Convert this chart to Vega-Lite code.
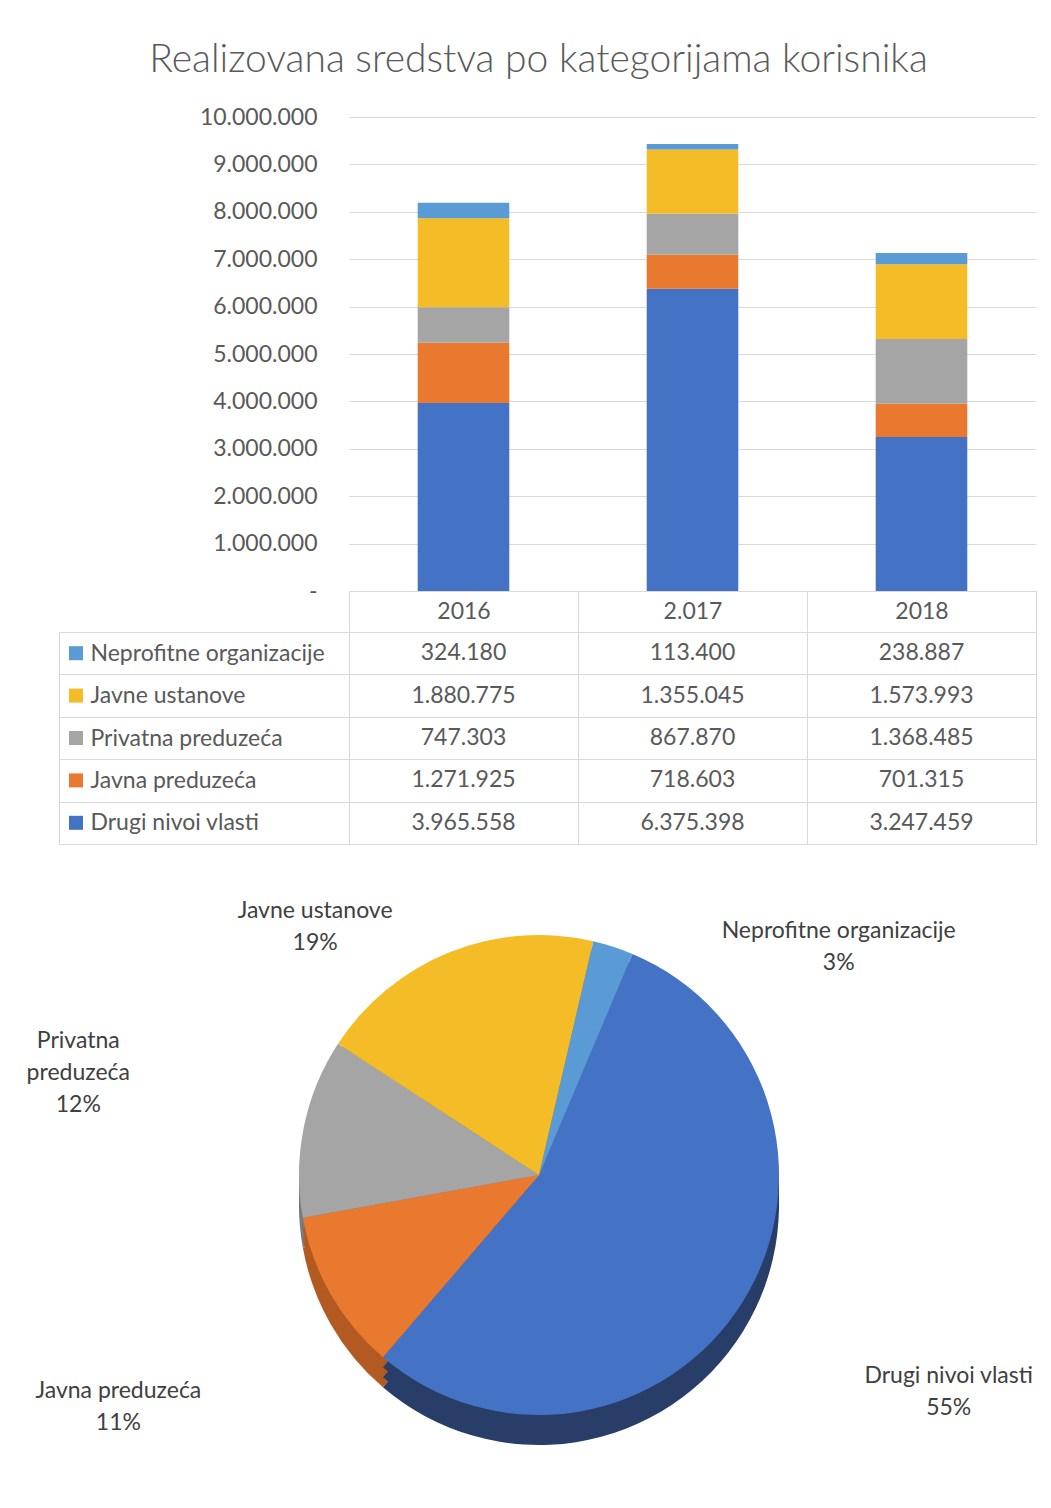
{
  "$schema": "https://vega.github.io/schema/vega-lite/v6.json",
  "padding": {"left": 26, "top": 41, "right": 0, "bottom": 0},
  "background": "white",
  "config": {
    "locale": {"number": {"decimal": ",", "thousands": ".", "grouping": [3], "currency": ["", ""]}},
    "view": {"stroke": null},
    "font": "Lato",
    "axis": {"labelFont": "Lato", "labelColor": "#595959", "labelFontSize": 23, "title": null},
    "text": {"font": "Lato"}
  },
  "datasets": {
    "vals": [
      {"year": "2016", "cat": "Drugi nivoi vlasti", "ord": 1, "value": 3965558},
      {"year": "2016", "cat": "Javna preduzeća", "ord": 2, "value": 1271925},
      {"year": "2016", "cat": "Privatna preduzeća", "ord": 3, "value": 747303},
      {"year": "2016", "cat": "Javne ustanove", "ord": 4, "value": 1880775},
      {"year": "2016", "cat": "Neprofitne organizacije", "ord": 5, "value": 324180},
      {"year": "2.017", "cat": "Drugi nivoi vlasti", "ord": 1, "value": 6375398},
      {"year": "2.017", "cat": "Javna preduzeća", "ord": 2, "value": 718603},
      {"year": "2.017", "cat": "Privatna preduzeća", "ord": 3, "value": 867870},
      {"year": "2.017", "cat": "Javne ustanove", "ord": 4, "value": 1355045},
      {"year": "2.017", "cat": "Neprofitne organizacije", "ord": 5, "value": 113400},
      {"year": "2018", "cat": "Drugi nivoi vlasti", "ord": 1, "value": 3247459},
      {"year": "2018", "cat": "Javna preduzeća", "ord": 2, "value": 701315},
      {"year": "2018", "cat": "Privatna preduzeća", "ord": 3, "value": 1368485},
      {"year": "2018", "cat": "Javne ustanove", "ord": 4, "value": 1573993},
      {"year": "2018", "cat": "Neprofitne organizacije", "ord": 5, "value": 238887}
    ],
    "pie": [
      {"cat": "Drugi nivoi vlasti", "ord": 1, "total": 13588415, "lbl": "Drugi nivoi vlasti\n55%"},
      {"cat": "Javna preduzeća", "ord": 2, "total": 2691843, "lbl": "Javna preduzeća\n11%"},
      {"cat": "Privatna preduzeća", "ord": 3, "total": 2983658, "lbl": "Privatna\npreduzeća\n12%"},
      {"cat": "Javne ustanove", "ord": 4, "total": 4809813, "lbl": "Javne ustanove\n19%"},
      {"cat": "Neprofitne organizacije", "ord": 5, "total": 676467, "lbl": "Neprofitne organizacije\n3%"}
    ]
  },
  "spacing": -12,
  "vconcat": [
    {
      "width": 687,
      "height": 474,
      "title": {"text": "Realizovana  sredstva po kategorijama korisnika", "fontSize": 39, "font": "Lato", "fontWeight": 300, "color": "#595959", "anchor": "middle", "frame": "group", "dx": -154, "offset": 26},
      "data": {"name": "vals"},
      "mark": {"type": "bar", "width": {"band": 0.4}},
      "encoding": {
        "x": {"field": "year", "type": "nominal", "sort": ["2016", "2.017", "2018"],
              "scale": {"type": "band", "paddingInner": 0, "paddingOuter": 0},
              "axis": {"orient": "bottom", "tickBand": "extent", "tickSize": 40, "tickColor": "#d9d9d9", "domainColor": "#d9d9d9", "labelPadding": -20, "labelBaseline": "middle", "labelAngle": 0, "grid": false, "minExtent": 40, "maxExtent": 40}},
        "y": {"field": "value", "type": "quantitative",
              "scale": {"domain": [0, 10000000], "nice": false},
              "axis": {"values": [0, 1000000, 2000000, 3000000, 4000000, 5000000, 6000000, 7000000, 8000000, 9000000, 10000000],
                       "format": ",d", "labelExpr": "datum.value === 0 ? '-' : datum.label",
                       "grid": true, "gridColor": "#d9d9d9", "domain": false, "ticks": false, "labelPadding": 32}},
        "color": {"field": "cat", "type": "nominal",
                  "scale": {"domain": ["Drugi nivoi vlasti", "Javna preduzeća", "Privatna preduzeća", "Javne ustanove", "Neprofitne organizacije"],
                            "range": ["#4472C4", "#E8792F", "#A5A5A5", "#F4BC26", "#5B9BD5"]},
                  "legend": null},
        "order": {"field": "ord", "type": "quantitative"}
      }
    },
    {
      "width": 687,
      "height": 212,
      "data": {"name": "vals"},
      "layer": [
        {
          "mark": {"type": "text", "fontSize": 23, "color": "#595959"},
          "encoding": {
            "x": {"field": "year", "type": "nominal", "sort": ["2016", "2.017", "2018"],
                  "scale": {"type": "band", "paddingInner": 0, "paddingOuter": 0},
                  "axis": {"orient": "bottom", "labels": false, "ticks": false, "domain": false, "grid": true, "gridColor": "#d9d9d9", "tickBand": "extent", "minExtent": 0, "maxExtent": 0}},
            "y": {"field": "cat", "type": "nominal",
                  "sort": ["Neprofitne organizacije", "Javne ustanove", "Privatna preduzeća", "Javna preduzeća", "Drugi nivoi vlasti"],
                  "scale": {"type": "band", "paddingInner": 0, "paddingOuter": 0},
                  "axis": {"orient": "left", "offset": 290, "tickBand": "extent", "tickSize": -290, "tickColor": "#d9d9d9", "domainColor": "#d9d9d9",
                           "grid": true, "gridColor": "#d9d9d9", "labelAlign": "left", "labelBaseline": "middle", "labelPadding": 259, "labelLimit": 0}},
            "text": {"field": "value", "type": "quantitative", "format": ",d"}
          }
        },
        {
          "transform": [{"filter": "datum.year === '2016'"}],
          "mark": {"type": "point", "shape": "square", "filled": true, "size": 196, "opacity": 1, "xOffset": -273},
          "encoding": {
            "x": {"field": "year", "type": "nominal", "sort": ["2016", "2.017", "2018"], "bandPosition": 0,
                  "scale": {"type": "band", "paddingInner": 0, "paddingOuter": 0},
                  "axis": {"orient": "bottom", "labels": false, "ticks": false, "domain": false, "grid": true, "gridColor": "#d9d9d9", "tickBand": "extent", "minExtent": 0, "maxExtent": 0}},
            "y": {"field": "cat", "type": "nominal",
                  "sort": ["Neprofitne organizacije", "Javne ustanove", "Privatna preduzeća", "Javna preduzeća", "Drugi nivoi vlasti"],
                  "scale": {"type": "band", "paddingInner": 0, "paddingOuter": 0}},
            "color": {"field": "cat", "type": "nominal",
                      "scale": {"domain": ["Drugi nivoi vlasti", "Javna preduzeća", "Privatna preduzeća", "Javne ustanove", "Neprofitne organizacije"],
                                "range": ["#4472C4", "#E8792F", "#A5A5A5", "#F4BC26", "#5B9BD5"]},
                      "legend": null}
          }
        }
      ]
    },
    {
      "width": 380,
      "height": 660,
      "data": {"name": "pie"},
      "encoding": {
        "theta": {"field": "total", "type": "quantitative", "stack": true, "scale": {"range": [0.4, 6.6832]}},
        "order": {"field": "ord", "type": "quantitative"}
      },
      "layer": [
        {"mark": {"type": "arc", "outerRadius": 240, "yOffset": 30},
         "encoding": {"fill": {"field": "cat", "type": "nominal",
           "scale": {"domain": ["Drugi nivoi vlasti", "Javna preduzeća", "Privatna preduzeća", "Javne ustanove", "Neprofitne organizacije"],
                     "range": ["#283D68", "#B35A22", "#7A7A7A", "#B88E14", "#3F6F9C"]}, "legend": null}}},
        {"mark": {"type": "arc", "outerRadius": 240, "yOffset": 20},
         "encoding": {"fill": {"field": "cat", "type": "nominal", "legend": null}}},
        {"mark": {"type": "arc", "outerRadius": 240, "yOffset": 10},
         "encoding": {"fill": {"field": "cat", "type": "nominal", "legend": null}}},
        {"mark": {"type": "arc", "outerRadius": 240},
         "encoding": {"color": {"field": "cat", "type": "nominal",
           "scale": {"domain": ["Drugi nivoi vlasti", "Javna preduzeća", "Privatna preduzeća", "Javne ustanove", "Neprofitne organizacije"],
                     "range": ["#4472C4", "#E8792F", "#A5A5A5", "#F4BC26", "#5B9BD5"]}, "legend": null}}},
        {"mark": {"type": "text", "fontSize": 23, "color": "#404040", "lineBreak": "\n", "lineHeight": 32, "align": "center", "baseline": "middle",
                  "radius": {"expr": "datum.ord <= 3 ? 470 : 300"},
                  "dx": {"expr": "datum.ord === 1 ? 10 : (datum.ord === 2 ? -13 : (datum.ord === 4 ? -112 : (datum.ord === 5 ? 207 : 0)))"},
                  "dy": {"expr": "datum.ord === 1 ? -46 : (datum.ord === 2 ? -18 : (datum.ord === 3 ? -41 : (datum.ord === 4 ? 14 : 41)))"}},
         "encoding": {"text": {"field": "lbl", "type": "nominal"}, "detail": {"field": "cat", "type": "nominal"}}}
      ]
    }
  ]
}
